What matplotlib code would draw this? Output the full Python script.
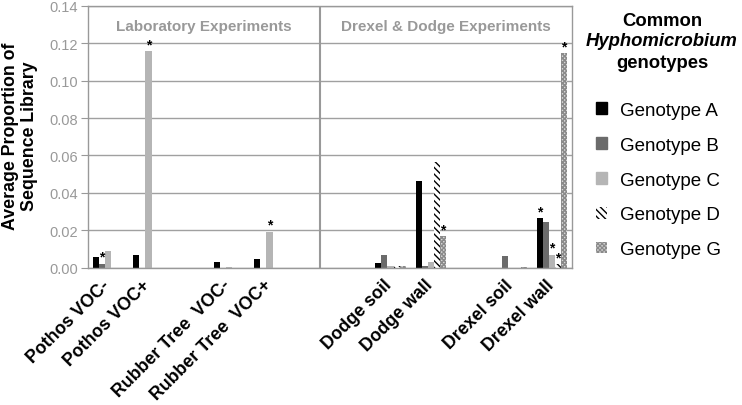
import numpy as np
import matplotlib
matplotlib.use('Agg')
import matplotlib.pyplot as plt
from matplotlib.patches import Patch

plt.rcParams['font.family'] = ['Liberation Sans', 'DejaVu Sans']
plt.rcParams['hatch.linewidth'] = 1.0

# 12 slots on the x axis, empty ones have no label
labels = ['Pothos VOC-', 'Pothos VOC+', '', 'Rubber Tree  VOC-', 'Rubber Tree  VOC+',
          '', '', 'Dodge soil', 'Dodge wall', '', 'Drexel soil', 'Drexel wall']
genotypes = ['Genotype A', 'Genotype B', 'Genotype C', 'Genotype D', 'Genotype G']

geno_a = [0.0054, 0.0066, 0, 0.0027, 0.0048, 0, 0, 0.0023, 0.0461, 0, 0.0, 0.0264]
geno_b = [0.0021, 0.0, 0, 0.0, 0.0, 0, 0, 0.0068, 0.0009, 0, 0.0059, 0.0241]
geno_c = [0.0086, 0.1158, 0, 0.0005, 0.0191, 0, 0, 0.0009, 0.0030, 0, 0.0, 0.0068]
geno_d = [0.0, 0.0, 0, 0.0, 0.0, 0, 0, 0.0006, 0.0563, 0, 0.0, 0.0018]
geno_g = [0.0, 0.0, 0, 0.0, 0.0, 0, 0, 0.0006, 0.0166, 0, 0.0004, 0.1147]

# significant (*) marks: (slot, genotype index)
stars = [(0, 1), (1, 2), (4, 2), (8, 4), (11, 0), (11, 2), (11, 3), (11, 4)]

series = [geno_a, geno_b, geno_c, geno_d, geno_g]
styles = [dict(color='black'),
          dict(color='#6b6b6b'),
          dict(color='#b5b5b5'),
          dict(facecolor='white', edgecolor='black', hatch='\\\\\\\\\\', linewidth=0),
          dict(facecolor='#d8d8d8', edgecolor='#8a8a8a', hatch='xxxxxxxx', linewidth=0)]

fig = plt.figure(figsize=(7.42, 4.06), dpi=100)
ax = fig.add_axes([88/742, 1-268.5/406, 484/742, 261.5/406])

x = np.arange(len(labels))
w = 0.15
for k, (vals, st) in enumerate(zip(series, styles)):
    ax.bar(x + 0.125 + k*w, vals, w, align='edge', **st)

for slot, k in stars:
    ax.text(slot + 0.125 + k*w + w/2, series[k][slot], '*', ha='center', va='bottom',
            fontsize=10, fontweight='bold')

ax.set_xlim(0, 12)
ax.set_ylim(0, 0.14)
ax.set_yticks(np.arange(0, 0.141, 0.02))
ax.set_yticklabels(['%.2f' % v for v in np.arange(0, 0.141, 0.02)])
ax.yaxis.grid(True, color='#a0a0a0', linewidth=1)
ax.set_axisbelow(True)
ax.tick_params(axis='y', colors='#999999', labelsize=10.5, length=5, pad=2,
               labelcolor='#999999')
for s in ax.spines.values():
    s.set_color('#999999')
    s.set_linewidth(1)

pos = [i for i, l in enumerate(labels) if l]
ax.set_xticks(np.array(pos) + 0.33)
ax.set_xticklabels([labels[i] for i in pos], rotation=45, ha='right',
                   rotation_mode='anchor', fontsize=12.8, fontweight='bold')
ax.tick_params(axis='x', length=0, pad=6)

# panel divider and headers
ax.axvline(5.76, color='#999999', linewidth=1.5)
ax.text(5.76/2, 0.1295, 'Laboratory Experiments', ha='center', va='center',
        color='#999999', fontsize=11, fontweight='bold')
ax.text((5.76+12)/2, 0.1295, 'Drexel & Dodge Experiments', ha='center', va='center',
        color='#999999', fontsize=11, fontweight='bold')

fig.text(20/742, 1-136/406, 'Average Proportion of\nSequence Library', rotation=90,
         ha='center', va='center', multialignment='center', fontsize=12.8,
         fontweight='bold', linespacing=1.1)

# legend block
fig.text(662/742, 1-21/406, 'Common', ha='center', va='center', fontsize=13.3, fontweight='bold')
fig.text(662/742, 1-42/406, 'Hyphomicrobium', ha='center', va='center', fontsize=13.3,
         fontweight='bold', style='italic')
fig.text(662/742, 1-63/406, 'genotypes', ha='center', va='center', fontsize=13.3, fontweight='bold')

handles = [Patch(label=g, **st) for g, st in zip(genotypes, styles)]
fig.legend(handles=handles, loc='upper left', bbox_to_anchor=(579/742, 1-86/406),
           frameon=False, fontsize=13.5, handlelength=0.6, handleheight=0.6,
           labelspacing=0.95, handletextpad=0.7)

fig.savefig('out.png', dpi=100)
